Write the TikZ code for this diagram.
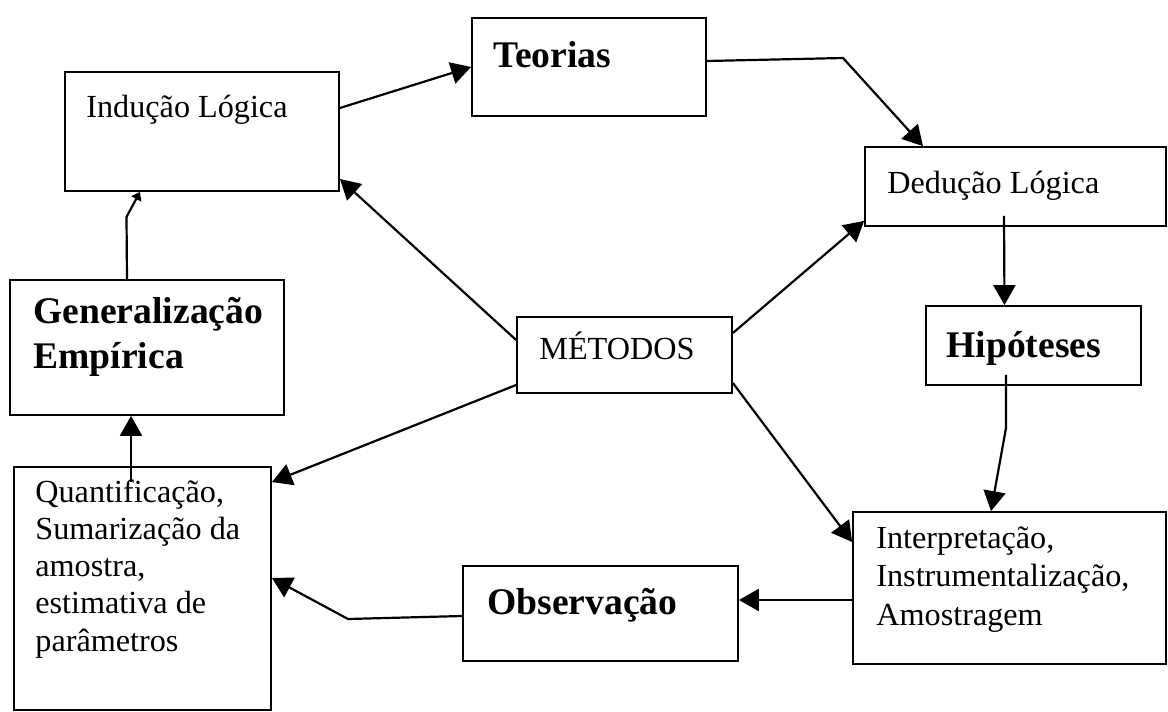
\documentclass[tikz,border=0pt]{standalone}
\usepackage{fontspec}
\setmainfont{Liberation Serif}
\usetikzlibrary{arrows.meta,calc}
\begin{document}
\begin{tikzpicture}[x=0.5pt,y=-0.5pt,
  box/.style={draw, line width=0.9pt, inner sep=0pt, rectangle},
  txt/.style={anchor=base west, inner sep=0pt, align=left, font=\fontsize{16.1}{19.25}\selectfont},
  btxt/.style={anchor=base west, inner sep=0pt, align=left, font=\bfseries\fontsize{18.8}{22.5}\selectfont},
  conn/.style={line width=1.1pt, -{Triangle[length=10pt,width=11pt]}},
  sconn/.style={line width=1.1pt, -{Triangle[length=4pt,width=5.5pt]}}
]
\useasboundingbox (0,0) rectangle (1168,712);

% boxes
\node[box, minimum width=137pt,   minimum height=59.5pt] (ind) at (202,131.5) {};
\node[box, minimum width=117pt,   minimum height=49pt]   (teo) at (589,67) {};
\node[box, minimum width=150.5pt, minimum height=39.5pt] (ded) at (1015.5,186.5) {};
\node[box, minimum width=107.5pt, minimum height=39.5pt] (hip) at (1033.5,345.5) {};
\node[box, minimum width=156.5pt, minimum height=76pt]   (itp) at (1009.5,588) {};
\node[box, minimum width=137.5pt, minimum height=47.5pt] (obs) at (600.5,613.5) {};
\node[box, minimum width=128.5pt, minimum height=121.5pt] (qua) at (142.5,588.5) {};
\node[box, minimum width=137pt,   minimum height=67.5pt] (gen) at (147,347.5) {};
\node[box, minimum width=107.5pt, minimum height=38pt]   (met) at (624.5,355) {};

% texts (multi-line nodes: base = baseline of last line)
\node[txt]  (tind) at (86,117)  {Indução Lógica};
\node[btxt] (tteo) at (493,67)  {Teorias};
\node[txt]  (tded) at (887,193) {Dedução Lógica};
\node[btxt] (thip) at (946,357) {Hipóteses};
\node[txt]  (tmet) at (539,359) {MÉTODOS};
\node[btxt] (tgen) at (33,368)  {Generalização\\Empírica};
\node[txt, font=\fontsize{16.1}{18.6}\selectfont] (tqua) at (35,651)  {Quantificação,\\Sumarização da\\amostra,\\estimativa de\\parâmetros};
\node[txt]  (titp) at (876,625) {Interpretação,\\Instrumentalização,\\Amostragem};
\node[btxt] (tobs) at (487,614) {Observação};

% connectors
\draw[conn] ([yshift=11.75pt]ind.east) -- (teo.west);
\draw[conn] ([yshift=3pt]teo.east) -- (843,58) -- ([xshift=-46.25pt]ded.north);
\draw[conn] ([xshift=-5.75pt,yshift=5.5pt]ded.south) -- ([xshift=-14.5pt]hip.north);
\draw[conn] ([xshift=-13.75pt,yshift=5.5pt]hip.south) -- (1006,428) -- ([xshift=-9.25pt]itp.north);
\draw[conn] ([yshift=11pt]met.east) -- ([yshift=3pt]ded.south west);
\draw[conn] ([yshift=-14pt]met.east) -- ([yshift=23pt]itp.west);
\draw[conn] ([yshift=-6pt]itp.west) -- ([yshift=6.75pt]obs.east);
\draw[conn] ([yshift=-1.25pt]obs.west) -- (348,619) -- ([yshift=5.25pt]qua.east);
\draw[conn] ([xshift=-5.75pt,yshift=-8pt]qua.north) -- ([xshift=-8pt]gen.south);
\draw[sconn] ([xshift=-10pt]gen.north) -- (126.5,217) -- ([xshift=-31pt]ind.south);
\draw[conn] ([yshift=7.5pt]met.west) -- ([yshift=6.5pt]ind.south east);
\draw[conn] ([yshift=-15pt]met.west) -- ([yshift=-8pt]qua.north east);
\end{tikzpicture}
\end{document}
